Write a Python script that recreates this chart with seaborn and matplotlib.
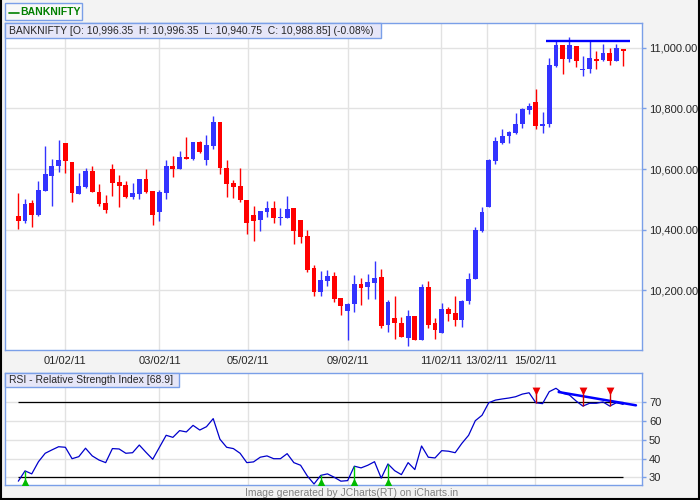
import matplotlib
matplotlib.use('Agg')
import matplotlib.pyplot as plt
import matplotlib.ticker as mticker
from matplotlib.lines import Line2D
from matplotlib.patches import Rectangle
import numpy as np
import pandas as pd
import seaborn as sns

# hourly BANKNIFTY candles
opens = [10445.6, 10430.1, 10488.5, 10449.9, 10529.1, 10578.6, 10611.6, 10686.5, 10623.8, 10518.2,
         10541.3, 10594.1, 10524.8, 10488.5, 10600.7, 10557.8, 10547.9, 10508.3, 10519.2, 10567.7,
         10528.1, 10459.8, 10522.5, 10610.6, 10601.7, 10640.3, 10633.7, 10689.8, 10630.4, 10676.6,
         10755.8, 10604.0, 10554.5, 10544.6, 10498.4, 10448.9, 10433.4, 10459.8, 10472.0, 10440.0,
         10440.0, 10472.0, 10432.4, 10379.6, 10274.0, 10195.8, 10232.1, 10247.6, 10175.0, 10133.1,
         10156.2, 10221.2, 10212.3, 10225.5, 10244.3, 10086.9, 10109.0, 10092.5, 10044.0, 10115.6,
         10037.4, 10211.3, 10092.5, 10060.5, 10138.7, 10125.5, 10103.4, 10166.1, 10238.7, 10397.1,
         10476.3, 10628.1, 10687.5, 10710.6, 10720.5, 10750.2, 10796.4, 10822.8, 10743.6, 10750.2,
         10941.6, 11010.9, 10964.7, 11007.6, 10928.4, 10931.7, 10964.7, 10961.4, 10984.5, 10958.1,
         10996.35]
highs = [10521.5, 10501.7, 10498.4, 10561.1, 10676.6, 10632.7, 10696.4, 10686.5, 10623.8, 10587.5,
         10604.0, 10610.6, 10551.2, 10514.9, 10617.2, 10580.9, 10562.1, 10554.5, 10567.7, 10600.7,
         10528.1, 10531.4, 10630.4, 10643.6, 10660.1, 10706.3, 10689.8, 10693.1, 10712.9, 10775.6,
         10755.8, 10630.4, 10564.4, 10604.0, 10498.4, 10478.6, 10462.1, 10495.1, 10495.1, 10472.0,
         10511.6, 10472.0, 10432.4, 10399.4, 10283.9, 10264.1, 10267.4, 10260.8, 10175.0, 10159.5,
         10250.9, 10241.0, 10254.2, 10297.1, 10270.7, 10168.4, 10182.6, 10112.3, 10135.4, 10115.6,
         10221.2, 10231.1, 10109.0, 10159.5, 10146.3, 10182.6, 10168.4, 10258.5, 10410.3, 10476.3,
         10634.7, 10707.3, 10733.7, 10727.1, 10786.5, 10803.0, 10819.5, 10865.7, 10789.8, 10968.0,
         11027.4, 11010.9, 11037.3, 11007.6, 10974.6, 11027.4, 10991.1, 11014.2, 11001.0, 11014.2,
         10996.35]
lows = [10401.7, 10423.5, 10410.3, 10446.6, 10528.1, 10479.6, 10591.8, 10588.5, 10491.8, 10518.2,
        10538.0, 10524.8, 10479.6, 10456.5, 10511.6, 10475.3, 10505.0, 10501.7, 10502.7, 10522.5,
        10416.9, 10430.1, 10502.7, 10575.3, 10601.7, 10633.7, 10630.4, 10654.5, 10613.9, 10666.7,
        10584.2, 10508.3, 10505.0, 10492.8, 10387.2, 10364.1, 10397.1, 10443.3, 10423.5, 10416.9,
        10440.0, 10354.3, 10357.5, 10261.8, 10182.6, 10182.6, 10215.6, 10162.8, 10119.9, 10037.4,
        10129.8, 10152.9, 10172.7, 10172.7, 10077.0, 10063.8, 10040.7, 10047.3, 10017.6, 10037.4,
        10037.4, 10077.0, 10040.7, 10060.5, 10100.1, 10083.6, 10080.3, 10156.2, 10238.7, 10393.8,
        10476.3, 10618.2, 10684.2, 10687.5, 10717.2, 10737.0, 10783.2, 10733.7, 10720.5, 10740.3,
        10938.3, 10915.2, 10954.8, 10938.3, 10908.6, 10918.5, 10931.7, 10958.1, 10944.9, 10958.1,
        10940.75]
closes = [10430.1, 10485.2, 10449.9, 10531.4, 10584.2, 10610.6, 10630.4, 10627.1, 10522.5, 10544.6,
          10594.1, 10524.8, 10485.2, 10466.4, 10554.5, 10544.6, 10508.3, 10521.5, 10567.7, 10525.8,
          10449.9, 10524.8, 10610.6, 10601.7, 10640.3, 10633.7, 10689.8, 10656.8, 10679.9, 10755.8,
          10604.0, 10551.2, 10541.3, 10499.3, 10423.5, 10430.1, 10462.1, 10472.0, 10440.0, 10442.3,
          10468.7, 10397.1, 10377.3, 10267.4, 10195.8, 10234.4, 10247.6, 10172.7, 10149.6, 10156.2,
          10221.2, 10209.0, 10227.8, 10241.0, 10083.6, 10161.8, 10093.5, 10047.3, 10115.6, 10037.4,
          10211.3, 10086.9, 10070.4, 10138.7, 10123.2, 10103.4, 10165.1, 10238.7, 10400.4, 10459.8,
          10631.4, 10694.1, 10710.6, 10723.8, 10750.2, 10799.7, 10809.6, 10743.6, 10750.2, 10944.9,
          11010.9, 10964.7, 11010.9, 10958.1, 10931.7, 10968.0, 10958.1, 10984.5, 10958.1, 11001.0,
          10988.85]
rsi_vals = [27.9, 33.4, 31.8, 38.3, 42.8, 44.6, 46.3, 46.0, 39.9, 41.0,
            45.5, 41.4, 39.2, 37.8, 45.3, 45.1, 42.8, 43.1, 47.2, 43.3,
            39.6, 46.0, 52.4, 51.3, 54.9, 54.2, 57.7, 55.2, 57.0, 61.3,
            50.3, 46.0, 45.3, 42.8, 37.8, 38.2, 40.7, 41.4, 39.9, 39.9,
            42.6, 37.8, 36.4, 30.7, 26.4, 31.0, 31.8, 30.0, 27.9, 28.2,
            35.9, 35.0, 36.4, 38.3, 29.5, 37.1, 33.5, 31.4, 37.8, 34.1,
            46.7, 40.7, 40.3, 44.2, 43.9, 43.1, 48.1, 52.4, 60.2, 63.1,
            69.8, 71.2, 71.8, 72.3, 73.0, 74.4, 75.1, 69.8, 69.3, 75.7,
            77.5, 74.8, 73.9, 70.7, 68.0, 69.5, 69.5, 70.2, 68.0, 69.8,
            68.9]

date_labels = ['01/02/11', '03/02/11', '05/02/11', '09/02/11', '11/02/11', '13/02/11', '15/02/11']
date_pos = [7.0, 21.0, 34.2, 49.0, 62.9, 69.7, 76.9]
price_ticks = [10200, 10400, 10600, 10800, 11000]
rsi_ticks = [30, 40, 50, 60, 70]
buy_idx = [1, 45, 50, 55]
sell_idx = [77, 84, 88]
resist_level = 11021
resist_span = [78.5, 91.0]
rsi_trend_x = [80.4, 91.9]
rsi_trend_y = [75.5, 68.4]

title_main = 'BANKNIFTY [O: 10,996.35  H: 10,996.35  L: 10,940.75  C: 10,988.85] (-0.08%)'
title_rsi = 'RSI - Relative Strength Index [68.9]'

sns.set_style('white')
plt.rcParams['font.family'] = ['Liberation Sans', 'DejaVu Sans']

df = pd.DataFrame({'open': opens, 'high': highs, 'low': lows, 'close': closes, 'rsi': rsi_vals})
df['idx'] = np.arange(len(df))
df['up'] = df['close'] >= df['open']

BLUE = '#3333ff'
RED = '#ff0000'
EDGE = '#7a9fe8'
GRID = '#e2e2e2'
W, H = 700, 500

fig = plt.figure(figsize=(7, 5), dpi=100, facecolor='#f3f3f3')
ax = fig.add_axes([5 / W, 150 / H, 637 / W, 327 / H])
ax2 = fig.add_axes([5 / W, 14.7 / H, 637 / W, 112 / H])

# candles
colors = np.where(df['up'], BLUE, RED)
ax.vlines(df['idx'], df['low'], df['high'], colors=colors, lw=1.0, zorder=3)
body = (df['close'] - df['open']).abs().clip(lower=3)
bottom = df[['open', 'close']].min(axis=1)
ax.bar(df['idx'], body, bottom=bottom, width=0.72, color=colors, lw=0, zorder=4)
ax.hlines(resist_level, resist_span[0], resist_span[1], color='#0000ff', lw=1.7, zorder=5)

# RSI
sns.lineplot(data=df, x='idx', y='rsi', ax=ax2, color='#0000cc', linewidth=0.9, zorder=4)
ax2.hlines([30, 70], 0, 90, color='black', lw=0.9, zorder=3)
ax2.plot(rsi_trend_x, rsi_trend_y, color='#0000ff', lw=1.8, zorder=5)
rsi_arr = np.array(rsi_vals)
ax2.vlines(buy_idx, 26.0, rsi_arr[buy_idx], color='#00cc00', lw=1.0, zorder=5)
ax2.vlines(sell_idx, rsi_arr[sell_idx], 76.5, color='#cc0000', lw=1.0, zorder=5)
ax2.scatter(buy_idx, [27.2] * len(buy_idx), marker='^', s=32, color='#00bb00', lw=0, zorder=6)
ax2.scatter(sell_idx, [76.2] * len(sell_idx), marker='v', s=32, color='#ee0000', lw=0, zorder=6)
ax2.set_xlabel('')
ax2.set_ylabel('')

for a in (ax, ax2):
    a.set_xlim(-1.98, 92.8)
    a.set_xticks(date_pos)
    a.grid(True, color=GRID, lw=1)
    a.set_axisbelow(True)
    a.yaxis.tick_right()
    a.tick_params(axis='y', length=3, width=1, color=EDGE, labelsize=8, pad=2, direction='out')
    a.tick_params(axis='x', length=0, labelsize=8, pad=4)
    a.set_facecolor('white')
    for s in a.spines.values():
        s.set_color(EDGE)
        s.set_linewidth(1)

ax.set_ylim(10003, 11082)
ax.set_yticks(price_ticks)
ax.yaxis.set_major_formatter(mticker.FuncFormatter(lambda v, p: f'{v:,.2f}'))
ax.set_xticklabels(date_labels)

ax2.set_ylim(25.7, 85.5)
ax2.set_yticks(rsi_ticks)
ax2.set_xticklabels([])


def px_rect(x0, y0, x1, y1, fc):
    fig.add_artist(Rectangle((x0 / W, 1 - y1 / H), (x1 - x0) / W, (y1 - y0) / H,
                             transform=fig.transFigure, fc=fc, ec=EDGE, lw=1, zorder=2))


# panel titles
px_rect(5, 23, 381, 38, '#e6e6f8')
fig.text(9 / W, 1 - 30.5 / H, title_main, fontsize=7.5, va='center', ha='left', zorder=3)
px_rect(5, 373, 179, 387, '#e6e6f8')
fig.text(9 / W, 1 - 380 / H, title_rsi, fontsize=7.5, va='center', ha='left', zorder=3)

# legend box
px_rect(5, 3, 82, 20, '#f8f8f8')
fig.add_artist(Line2D([9 / W, 18.5 / W], [1 - 12.5 / H, 1 - 12.5 / H], color='#008000', lw=1.2, zorder=3))
fig.text(20.5 / W, 1 - 12 / H, 'BANKNIFTY', fontsize=7.5, fontweight='bold', color='#008000',
         va='center', ha='left', zorder=3)

fig.text(351.5 / W, 1 - 492.5 / H, 'Image generated by JCharts(RT) on iCharts.in', fontsize=7.5,
         color='#808080', va='center', ha='center')

# outer frame
for xs, ys in [([0.7 / W, 0.7 / W], [0, 1]), ([699.3 / W, 699.3 / W], [0, 1]), ([0, 1], [0.7 / H, 0.7 / H])]:
    fig.add_artist(Line2D(xs, ys, color='black', lw=1.5, zorder=10))

fig.savefig('out.png', dpi=100, facecolor=fig.get_facecolor())
